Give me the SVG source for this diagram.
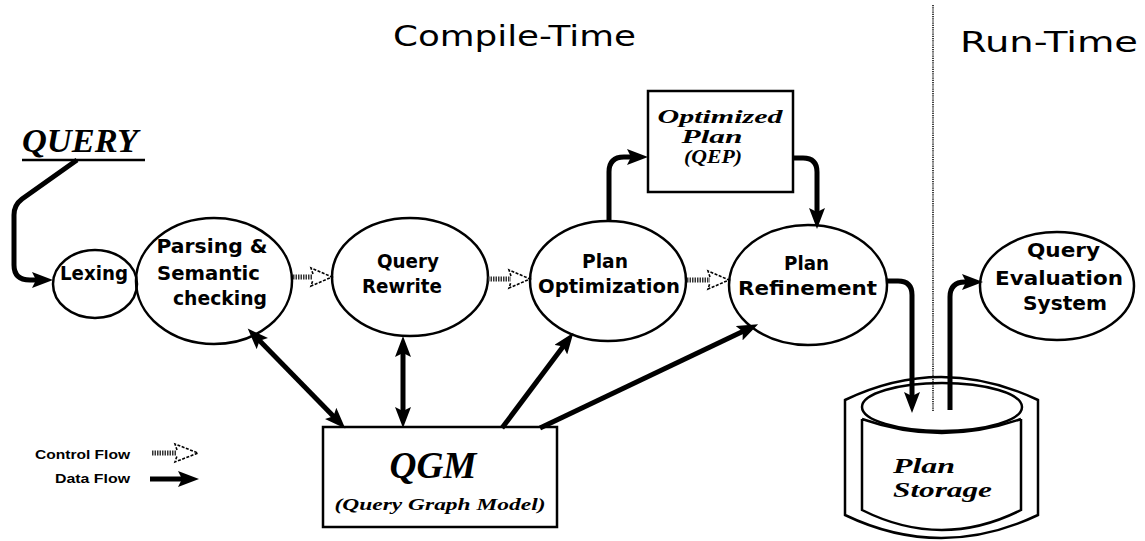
<svg xmlns="http://www.w3.org/2000/svg" width="1145" height="541" viewBox="0 0 1145 541">
<style>
.node{fill:none;stroke:#000;stroke-width:2.5}
.lbl{font-family:"DejaVu Sans",sans-serif;font-weight:bold;font-size:20px;fill:#000;text-anchor:middle}
.ser{font-family:"Liberation Serif",serif;font-style:italic;font-weight:bold;fill:#000}
.data{fill:none;stroke:#000;stroke-width:5;stroke-linecap:butt;stroke-linejoin:round}
.cfs{stroke:#333;stroke-width:5;stroke-dasharray:1.5 1}
.cfh{fill:none;stroke:#000;stroke-width:1.6;stroke-dasharray:3 1.5}
.title{font-family:"DejaVu Sans",sans-serif;font-size:28px;fill:#000}
.leg{font-family:"Liberation Sans",sans-serif;font-weight:bold;font-size:13px;fill:#000;text-anchor:end}
</style>
<defs>
<marker id="ah" markerUnits="userSpaceOnUse" markerWidth="22" markerHeight="16" refX="12" refY="8" orient="auto-start-reverse" viewBox="0 0 22 16">
<path d="M0,0 L21,8 L0,16 L4,8 Z" fill="#000"/>
</marker>
</defs>
<rect width="1145" height="541" fill="#fff"/>

<g id="titles">
<text class="title" x="393" y="46" textLength="243" lengthAdjust="spacingAndGlyphs">Compile-Time</text>
<text class="title" x="960" y="52" textLength="178" lengthAdjust="spacingAndGlyphs">Run-Time</text>
<line x1="933" y1="5" x2="933" y2="412" stroke="#000" stroke-width="1.5" stroke-dasharray="1.2 1"/>
</g>

<g id="query">
<text class="ser" x="22" y="152" font-size="34" font-weight="normal" textLength="116" lengthAdjust="spacingAndGlyphs">QUERY</text>
<line x1="22" y1="160" x2="145" y2="160" stroke="#000" stroke-width="2.5"/>
</g>

<g id="lexing">
<ellipse class="node" cx="95" cy="284" rx="42" ry="34"/>
<text class="lbl" x="94" y="280" textLength="68" lengthAdjust="spacingAndGlyphs">Lexing</text>
</g>

<g id="parsing">
<ellipse class="node" cx="214" cy="281" rx="78" ry="63"/>
<text class="lbl" x="212" y="253" textLength="111" lengthAdjust="spacingAndGlyphs">Parsing &amp;</text>
<text class="lbl" x="208.5" y="280" textLength="103" lengthAdjust="spacingAndGlyphs">Semantic</text>
<text class="lbl" x="220" y="305" textLength="94" lengthAdjust="spacingAndGlyphs">checking</text>
</g>

<g id="rewrite">
<ellipse class="node" cx="410" cy="277" rx="78" ry="59"/>
<text class="lbl" x="408" y="268" textLength="62" lengthAdjust="spacingAndGlyphs">Query</text>
<text class="lbl" x="402" y="293" textLength="80" lengthAdjust="spacingAndGlyphs">Rewrite</text>
</g>

<g id="planopt">
<ellipse class="node" cx="608" cy="281" rx="78" ry="60"/>
<text class="lbl" x="605" y="268" textLength="46" lengthAdjust="spacingAndGlyphs">Plan</text>
<text class="lbl" x="609" y="293" textLength="142" lengthAdjust="spacingAndGlyphs">Optimization</text>
</g>

<g id="refinement">
<ellipse class="node" cx="808" cy="285" rx="79" ry="60"/>
<text class="lbl" x="806.5" y="270" textLength="45" lengthAdjust="spacingAndGlyphs">Plan</text>
<text class="lbl" x="807.5" y="295" textLength="139" lengthAdjust="spacingAndGlyphs">Refinement</text>
</g>

<g id="qes">
<ellipse class="node" cx="1057" cy="286" rx="77" ry="54"/>
<text class="lbl" x="1063.5" y="257" font-size="22" textLength="73" lengthAdjust="spacingAndGlyphs">Query</text>
<text class="lbl" x="1059" y="285" font-size="22" textLength="128" lengthAdjust="spacingAndGlyphs">Evaluation</text>
<text class="lbl" x="1065" y="310" font-size="22" textLength="84" lengthAdjust="spacingAndGlyphs">System</text>
</g>

<g id="qep">
<rect class="node" x="648" y="91" width="145" height="101"/>
<text class="ser" x="720" y="123" font-size="19" text-anchor="middle" textLength="125" lengthAdjust="spacingAndGlyphs">Optimized</text>
<text class="ser" x="712" y="143" font-size="19" text-anchor="middle" textLength="61" lengthAdjust="spacingAndGlyphs">Plan</text>
<text class="ser" x="713" y="163" font-size="19" text-anchor="middle" textLength="58" lengthAdjust="spacingAndGlyphs">(QEP)</text>
</g>

<g id="qgm">
<rect class="node" x="323" y="427" width="234" height="100"/>
<text class="ser" x="433" y="478" font-size="38" font-weight="normal" text-anchor="middle" textLength="87" lengthAdjust="spacingAndGlyphs">QGM</text>
<text class="ser" x="440" y="510" font-size="17" text-anchor="middle" textLength="211" lengthAdjust="spacingAndGlyphs">(Query Graph Model)</text>
</g>

<g id="storage">
<path class="node" d="M845,400 Q941,354 1038,400 V515 Q941,561 845,515 Z"/>
<ellipse class="node" cx="942" cy="407" rx="80" ry="24"/>
<path class="node" d="M862,419 Q942,447 1021,419 M862,419 V510 Q942,550 1021,510 V419"/>
<text class="ser" x="893" y="473" font-size="21" textLength="62" lengthAdjust="spacingAndGlyphs">Plan</text>
<text class="ser" x="893" y="497" font-size="21" textLength="99" lengthAdjust="spacingAndGlyphs">Storage</text>
</g>

<g id="connectors">
<path class="data" d="M77,160 L22,199 Q14,205 14,215 V265 Q14,280 30,280 H44" marker-end="url(#ah)"/>
<path class="data" d="M609,222 V172 Q609,157 624,157 H639" marker-end="url(#ah)"/>
<path class="data" d="M793,158 H803 Q817,158 817,172 V220" marker-end="url(#ah)"/>
<path class="data" d="M887,281 H898 Q912,281 912,295 V404" marker-end="url(#ah)"/>
<path class="data" d="M950,410 V297 Q950,282 965,282 H974" marker-end="url(#ah)"/>
<path class="data" d="M254,335 L339,422" marker-start="url(#ah)" marker-end="url(#ah)"/>
<path class="data" d="M403,345 V419" marker-start="url(#ah)" marker-end="url(#ah)"/>
<path class="data" d="M502,428 L568,340" marker-end="url(#ah)"/>
<path class="data" d="M540,428 L750,328" marker-end="url(#ah)"/>
<line class="cfs" x1="293" y1="277" x2="313" y2="277"/>
<path class="cfh" d="M313,274 L311,268 L332,277 L311,286 L313,280"/>
<line class="cfs" x1="488" y1="279" x2="511" y2="279"/>
<path class="cfh" d="M511,276 L509,270 L530,279 L509,288 L511,282"/>
<line class="cfs" x1="687" y1="280" x2="710" y2="280"/>
<path class="cfh" d="M710,277 L708,271 L729,280 L708,289 L710,283"/>
</g>

<g id="legend">
<text class="leg" x="130" y="459" textLength="95" lengthAdjust="spacingAndGlyphs">Control Flow</text>
<text class="leg" x="130" y="483" textLength="75" lengthAdjust="spacingAndGlyphs">Data Flow</text>
<line class="cfs" x1="152" y1="453" x2="177" y2="453"/>
<path class="cfh" d="M177,450 L175,444 L198,453 L175,462 L177,456"/>
<path class="data" d="M150,479 H190" marker-end="url(#ah)"/>
</g>
</svg>
